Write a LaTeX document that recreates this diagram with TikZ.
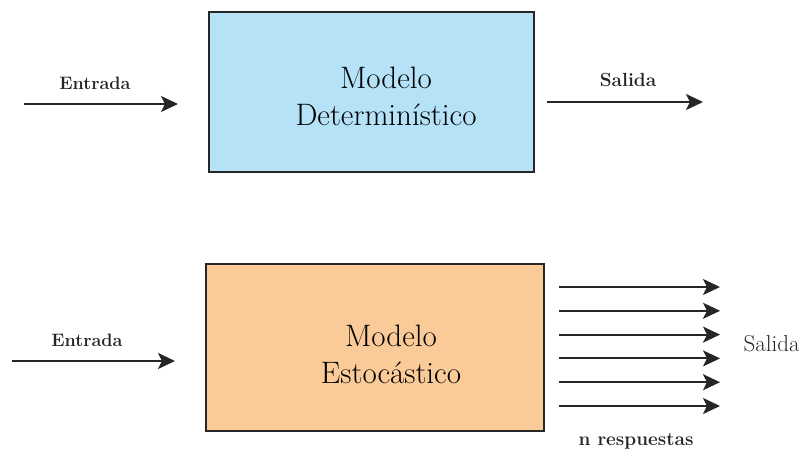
\documentclass[tikz,border=0pt]{standalone}
\usepackage{fontspec}
\usetikzlibrary{arrows.meta}
\definecolor{azulmodelo}{RGB}{182,226,248}
\definecolor{naranjamodelo}{RGB}{250,202,152}

\begin{document}
\begin{tikzpicture}[x=1pt,y=-1pt,>={Stealth[length=17pt,width=16pt,inset=4pt]},
  modelo/.style={draw=black!85,line width=1.8pt,inner sep=0pt},
  flecha/.style={->,line width=2pt,black!85},
  etiqueta/.style={font=\bfseries\fontsize{18}{20}\selectfont,text=black!85},
  texto/.style={font=\fontsize{31}{37}\selectfont,align=center,text=black}]
\useasboundingbox(0,0)rectangle(799,449);
% modelo deterministico
\node[modelo,fill=azulmodelo,minimum width=325pt,minimum height=160pt](det)at(371.5,92){};
\node[texto](dettxt)at(386,96){Modelo\\Determinístico};
\coordinate(ent1a)at(24,104);\coordinate(ent1b)at(178,104);
\draw[flecha](ent1a)--(ent1b);
\node[etiqueta](ent1)at(95,83){Entrada};
\coordinate(sal1a)at(547,102);\coordinate(sal1b)at(703,102);
\draw[flecha](sal1a)--(sal1b);
\node[etiqueta,font=\bfseries\fontsize{19}{20}\selectfont](sal1)at(628,80){Salida};
% modelo estocastico
\node[modelo,fill=naranjamodelo,minimum width=338pt,minimum height=167pt](est)at(375,347.5){};
\node[texto](esttxt)at(391,354){Modelo\\Estocástico};
\coordinate(ent2a)at(12,361);\coordinate(ent2b)at(175,361);
\draw[flecha](ent2a)--(ent2b);
\node[etiqueta](ent2)at(87,340){Entrada};
\foreach \i in {0,...,5}{
  \coordinate(r\i a)at(559,287+23.8*\i);
  \coordinate(r\i b)at(720,287+23.8*\i);
  \draw[flecha](r\i a)--(r\i b);
}
\node[anchor=west,font=\fontsize{23}{24}\selectfont,text=black!85](sal2)at(740,344){Salida};
\node[etiqueta,font=\bfseries\fontsize{19}{24}\selectfont](nresp)at(636,441){n respuestas};
\end{tikzpicture}
\end{document}
